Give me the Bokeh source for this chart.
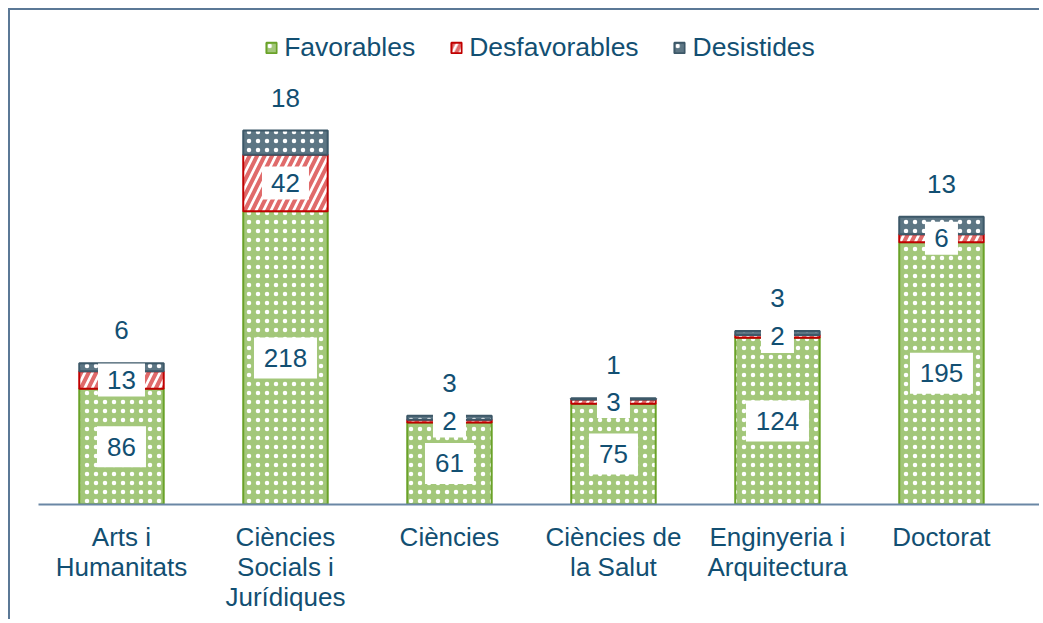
from bokeh.plotting import figure
from bokeh.models import ColumnDataSource, Range1d, FixedTicker, LabelSet, Legend, LegendItem
from bokeh.core.properties import value
from bokeh.embed import file_html
from bokeh.resources import INLINE

categories = ["Arts i\nHumanitats", "Ciències\nSocials i\nJurídiques", "Ciències",
              "Ciències de\nla Salut", "Enginyeria i\nArquitectura", "Doctorat"]
favorables = [86, 218, 61, 75, 124, 195]
desfavorables = [13, 42, 2, 3, 2, 6]
desistides = [6, 18, 3, 1, 3, 13]

TXT = "#124f72"
FONT = "Liberation Sans"
FS = "26px"

x = list(range(len(categories)))
f_top = favorables
d_top = [a + b for a, b in zip(favorables, desfavorables)]
s_top = [a + b for a, b in zip(d_top, desistides)]
src = ColumnDataSource(dict(
    x=x, f0=[0] * len(x), f1=f_top, d1=d_top, s1=s_top,
    fmid=[v / 2 for v in f_top],
    dmid=[(a + b) / 2 for a, b in zip(f_top, d_top)],
    fav_t=[str(v) for v in favorables],
    des_t=[str(v) for v in desfavorables],
    dis_t=[str(v) for v in desistides],
    fav_w=[14 * len(str(v)) + 21 for v in favorables],
    des_w=[14 * len(str(v)) + 19 for v in desfavorables],
))

p = figure(width=1031, height=611, output_backend="svg", toolbar_location=None,
           x_range=Range1d(-0.506, 5.610), y_range=Range1d(0, 367.3),
           min_border_left=28, min_border_right=0, min_border_top=0, min_border_bottom=117,
           outline_line_color=None,
           styles={"margin-left": "8px", "margin-top": "8px",
                   "border-top": "2px solid #5b7896", "border-left": "2px solid #5b7896"})
p.grid.visible = False
p.yaxis.visible = False
p.xaxis.ticker = FixedTicker(ticks=x)
p.xaxis.major_label_overrides = {i: c for i, c in enumerate(categories)}
p.xaxis.major_tick_line_color = None
p.xaxis.minor_tick_line_color = None
p.xaxis.axis_line_color = "#6a87a5"
p.xaxis.axis_line_width = 2
p.xaxis.major_label_text_font = FONT
p.xaxis.major_label_text_font_size = FS
p.xaxis.major_label_text_color = TXT
p.xaxis.major_label_standoff = 11
p.xaxis.major_label_text_line_height = 1.0

W = 0.515
r_fav = p.vbar(x="x", bottom="f0", top="f1", width=W, source=src,
               fill_color="#a3c77a", line_color="#6aa229", line_width=2,
               hatch_pattern="dot", hatch_color="white", hatch_scale=9, hatch_weight=1.5)
r_des = p.vbar(x="x", bottom="f1", top="d1", width=W, source=src,
               fill_color="white", line_color="#c00000", line_width=2,
               hatch_pattern="right_diagonal_line", hatch_color="#e06a6a",
               hatch_scale=15, hatch_weight=4)
r_dis = p.vbar(x="x", bottom="d1", top="s1", width=W, source=src,
               fill_color="#5d7684", line_color="#3d5868", line_width=2,
               hatch_pattern="dot", hatch_color="white", hatch_scale=9, hatch_weight=5)

# white label boxes
p.rect(x="x", y="fmid", width="fav_w", height=41, width_units="screen",
       height_units="screen", source=src, fill_color="white", line_color=None)
p.rect(x="x", y="dmid", width="des_w", height=33, width_units="screen",
       height_units="screen", source=src, fill_color="white", line_color=None)

common = dict(source=src, text_font=value(FONT), text_font_size=value(FS), text_color=TXT,
              text_align="center", text_baseline="middle")
p.add_layout(LabelSet(x="x", y="fmid", text="fav_t", **common))
p.add_layout(LabelSet(x="x", y="dmid", text="des_t", **common))
p.add_layout(LabelSet(x="x", y="s1", text="dis_t", y_offset=33, **common))

legend = Legend(items=[LegendItem(label="Favorables", renderers=[r_fav]),
                       LegendItem(label="Desfavorables", renderers=[r_des]),
                       LegendItem(label="Desistides", renderers=[r_dis])],
                orientation="horizontal", location="top_center",
                label_text_font=FONT, label_text_font_size="26.5px", label_text_color=TXT,
                glyph_width=13, glyph_height=13, label_standoff=7, spacing=34,
                padding=0, margin=22, border_line_color=None, background_fill_alpha=0)
p.add_layout(legend)

open("out.html", "w").write(file_html(p, INLINE))
